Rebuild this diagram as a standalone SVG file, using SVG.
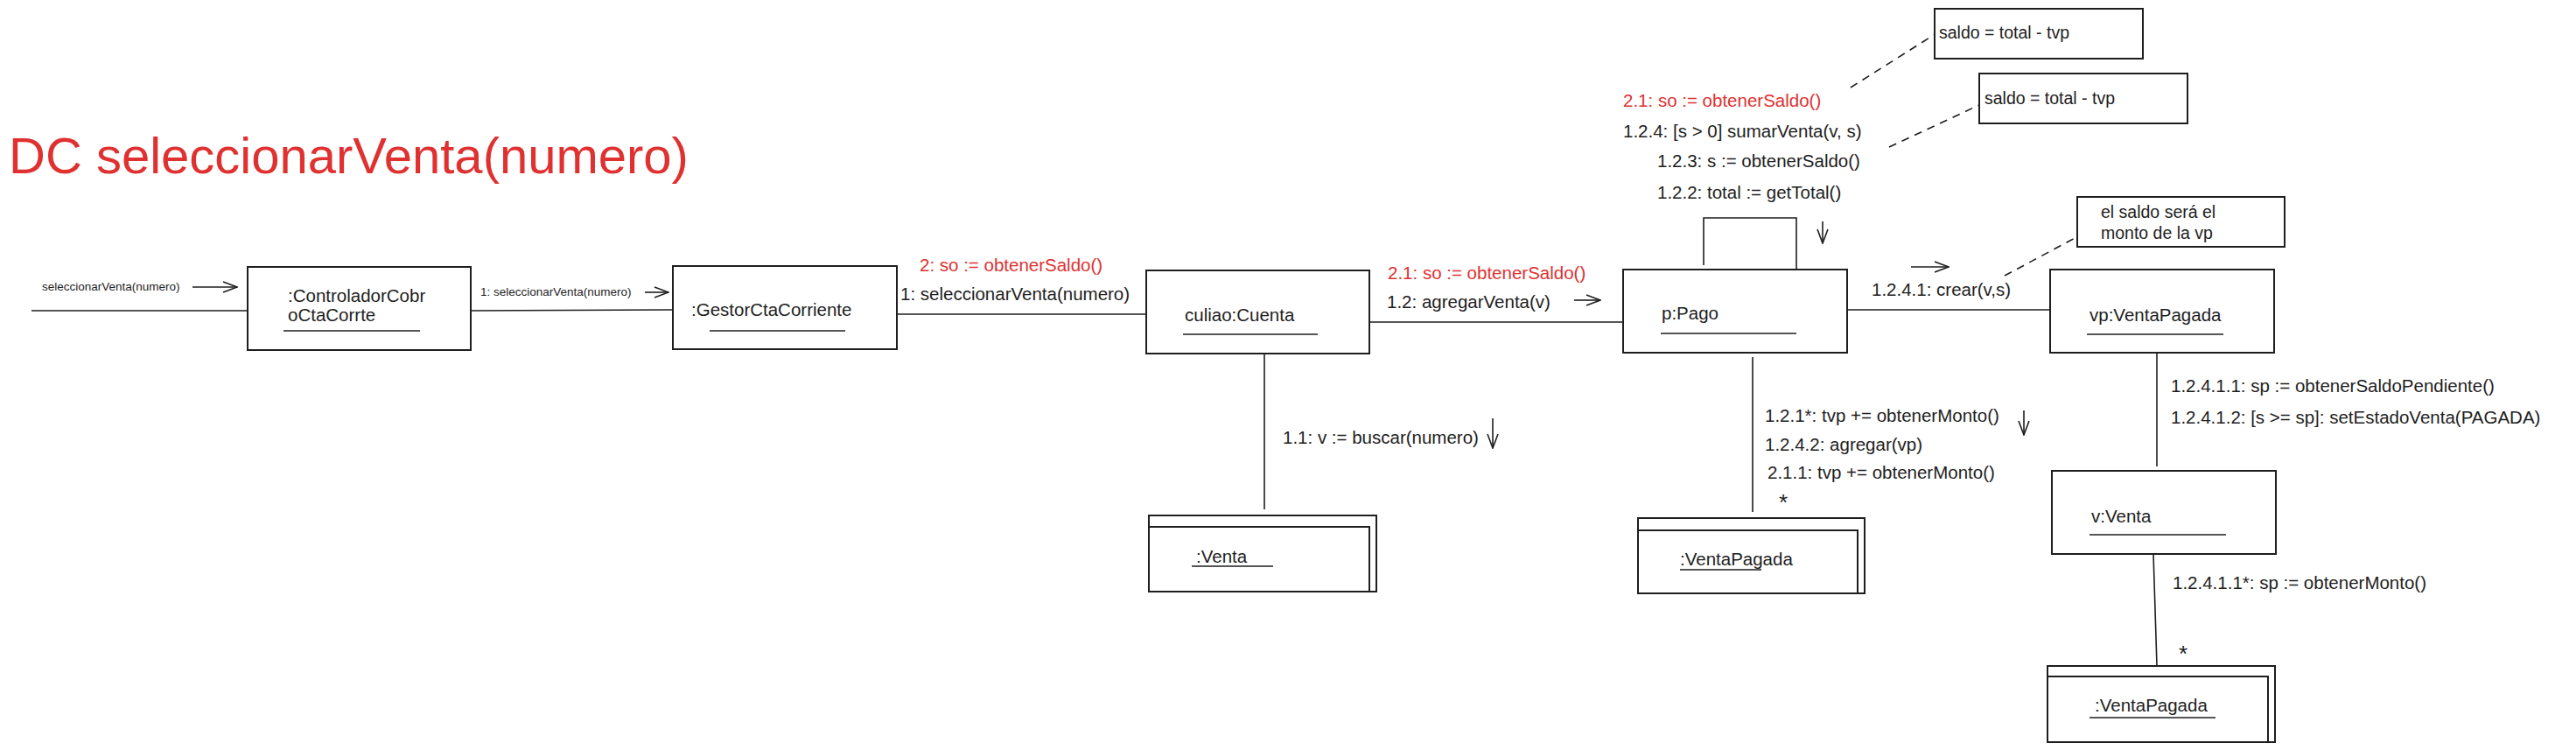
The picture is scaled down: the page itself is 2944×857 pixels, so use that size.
<svg xmlns="http://www.w3.org/2000/svg" width="2944" height="857" viewBox="0 0 2944 857">
<defs>
<marker id="arr" viewBox="0 0 18 14" refX="17" refY="7" markerWidth="18" markerHeight="14" markerUnits="userSpaceOnUse" orient="auto">
<path d="M1,1 L17,7 L1,13" fill="none" stroke="#1e1e1e" stroke-width="1.6"/>
</marker>
</defs>
<style>
text{font-family:"Liberation Sans",Arial,sans-serif;fill:#1e1e1e}
.t20{font-size:20.5px}
.t17{font-size:19.5px}
.t13{font-size:13.5px}
.star{font-size:26px}
.red{fill:#e03131}
.box{fill:#fff;stroke:#1e1e1e;stroke-width:2}
.ul{stroke:#1e1e1e;stroke-width:1.6}
.ln{stroke:#1e1e1e;stroke-width:1.6;fill:none}
.dash{stroke:#1e1e1e;stroke-width:1.6;stroke-dasharray:9 7;fill:none}
.ar{stroke:#1e1e1e;stroke-width:1.6;fill:none;marker-end:url(#arr)}
</style>
<rect width="2944" height="857" fill="#fff"/>

<g id="title">
<text x="10" y="198" style="font-size:58px" class="red">DC seleccionarVenta(numero)</text>
</g>

<g id="connectors">
<line class="ln" x1="36" y1="355" x2="283" y2="355"/>
<line class="ln" x1="538" y1="355" x2="769" y2="354"/>
<line class="ln" x1="1025" y1="359" x2="1310" y2="359"/>
<line class="ln" x1="1565" y1="368" x2="1855" y2="368"/>
<line class="ln" x1="2111" y1="354" x2="2343" y2="354"/>
<line class="ln" x1="1445" y1="404" x2="1445" y2="582"/>
<line class="ln" x1="2003" y1="408" x2="2003" y2="585"/>
<line class="ln" x1="2465" y1="403" x2="2465" y2="533"/>
<line class="ln" x1="2461" y1="633" x2="2465" y2="761"/>
<path class="ln" d="M1947,303 L1947,249 L2053,249 L2053,308"/>
<line class="dash" x1="2115" y1="100" x2="2210" y2="40"/>
<line class="dash" x1="2159" y1="168" x2="2262" y2="120"/>
<line class="dash" x1="2291" y1="315" x2="2375" y2="270"/>

<line class="ar" x1="220" y1="328" x2="271" y2="328"/>
<line class="ar" x1="737" y1="334" x2="764" y2="334"/>
<line class="ar" x1="1799" y1="343" x2="1829" y2="343"/>
<line class="ar" x1="2184" y1="305" x2="2227" y2="305"/>
<line class="ar" x1="2083" y1="253" x2="2083" y2="278"/>
<line class="ar" x1="1706" y1="478" x2="1706" y2="512"/>
<line class="ar" x1="2313" y1="469" x2="2313" y2="497"/>

<text class="t13" x="48" y="332">seleccionarVenta(numero)</text>
<text class="t13" x="549" y="338">1: seleccionarVenta(numero)</text>
<text class="t20 red" x="1051" y="310">2: so := obtenerSaldo()</text>
<text class="t20" x="1029" y="343">1: seleccionarVenta(numero)</text>
<text class="t20 red" x="1586" y="319">2.1: so := obtenerSaldo()</text>
<text class="t20" x="1585" y="352">1.2: agregarVenta(v)</text>
<text class="t20 red" x="1855" y="122">2.1: so := obtenerSaldo()</text>
<text class="t20" x="1855" y="157">1.2.4: [s &gt; 0] sumarVenta(v, s)</text>
<text class="t20" x="1894" y="191">1.2.3: s := obtenerSaldo()</text>
<text class="t20" x="1894" y="227">1.2.2: total := getTotal()</text>
<text class="t20" x="2139" y="338">1.2.4.1: crear(v,s)</text>
<text class="t20" x="1466" y="507">1.1: v := buscar(numero)</text>
<text class="t20" x="2017" y="482">1.2.1*: tvp += obtenerMonto()</text>
<text class="t20" x="2017" y="515">1.2.4.2: agregar(vp)</text>
<text class="t20" x="2020" y="547">2.1.1: tvp += obtenerMonto()</text>
<text class="star" x="2033" y="583">*</text>
<text class="t20" x="2481" y="448">1.2.4.1.1: sp := obtenerSaldoPendiente()</text>
<text class="t20" x="2481" y="484">1.2.4.1.2: [s &gt;= sp]: setEstadoVenta(PAGADA)</text>
<text class="t20" x="2483" y="673">1.2.4.1.1*: sp := obtenerMonto()</text>
<text class="star" x="2490" y="756">*</text>
</g>

<g id="n-controlador">
<rect class="box" x="283" y="305" width="255" height="95"/>
<text class="t20" x="329" y="345">:ControladorCobr</text>
<text class="t20" x="329" y="367">oCtaCorrte</text>
<line class="ul" x1="324" y1="378" x2="480" y2="378"/>
</g>

<g id="n-gestor">
<rect class="box" x="769" y="304" width="256" height="95"/>
<text class="t20" x="790" y="361">:GestorCtaCorriente</text>
<line class="ul" x1="811" y1="378" x2="966" y2="378"/>
</g>

<g id="n-cuenta">
<rect class="box" x="1310" y="309" width="255" height="95"/>
<text class="t20" x="1354" y="367">culiao:Cuenta</text>
<line class="ul" x1="1352" y1="382" x2="1506" y2="382"/>
</g>

<g id="n-pago">
<rect class="box" x="1855" y="308" width="256" height="95"/>
<text class="t20" x="1899" y="365">p:Pago</text>
<line class="ul" x1="1898" y1="381" x2="2053" y2="381"/>
</g>

<g id="n-vp">
<rect class="box" x="2343" y="308" width="256" height="95"/>
<text class="t20" x="2388" y="367">vp:VentaPagada</text>
<line class="ul" x1="2385" y1="382" x2="2541" y2="382"/>
</g>

<g id="n-venta-multi">
<rect class="box" x="1313" y="589" width="260" height="87"/>
<rect class="box" x="1313" y="602" width="252" height="74"/>
<text class="t20" x="1367" y="643">:Venta</text>
<line class="ul" x1="1362" y1="647" x2="1455" y2="647"/>
</g>

<g id="n-ventapagada-multi">
<rect class="box" x="1872" y="592" width="259" height="86"/>
<rect class="box" x="1872" y="606" width="251" height="72"/>
<text class="t20" x="1920" y="646">:VentaPagada</text>
<line class="ul" x1="1920" y1="651" x2="2013" y2="651"/>
</g>

<g id="n-v-venta">
<rect class="box" x="2345" y="538" width="256" height="95"/>
<text class="t20" x="2390" y="597">v:Venta</text>
<line class="ul" x1="2388" y1="611" x2="2544" y2="611"/>
</g>

<g id="n-ventapagada-multi2">
<rect class="box" x="2340" y="761" width="260" height="87"/>
<rect class="box" x="2340" y="773" width="252" height="75"/>
<text class="t20" x="2394" y="813">:VentaPagada</text>
<line class="ul" x1="2388" y1="820" x2="2532" y2="820"/>
</g>

<g id="note-1">
<rect class="box" x="2211" y="10" width="238" height="57"/>
<text class="t17" x="2216" y="44">saldo = total - tvp</text>
</g>
<g id="note-2">
<rect class="box" x="2262" y="84" width="238" height="57"/>
<text class="t17" x="2268" y="119">saldo = total - tvp</text>
</g>
<g id="note-3">
<rect class="box" x="2374" y="225" width="237" height="57"/>
<text class="t17" x="2401" y="249">el saldo será el</text>
<text class="t17" x="2401" y="273">monto de la vp</text>
</g>
</svg>
